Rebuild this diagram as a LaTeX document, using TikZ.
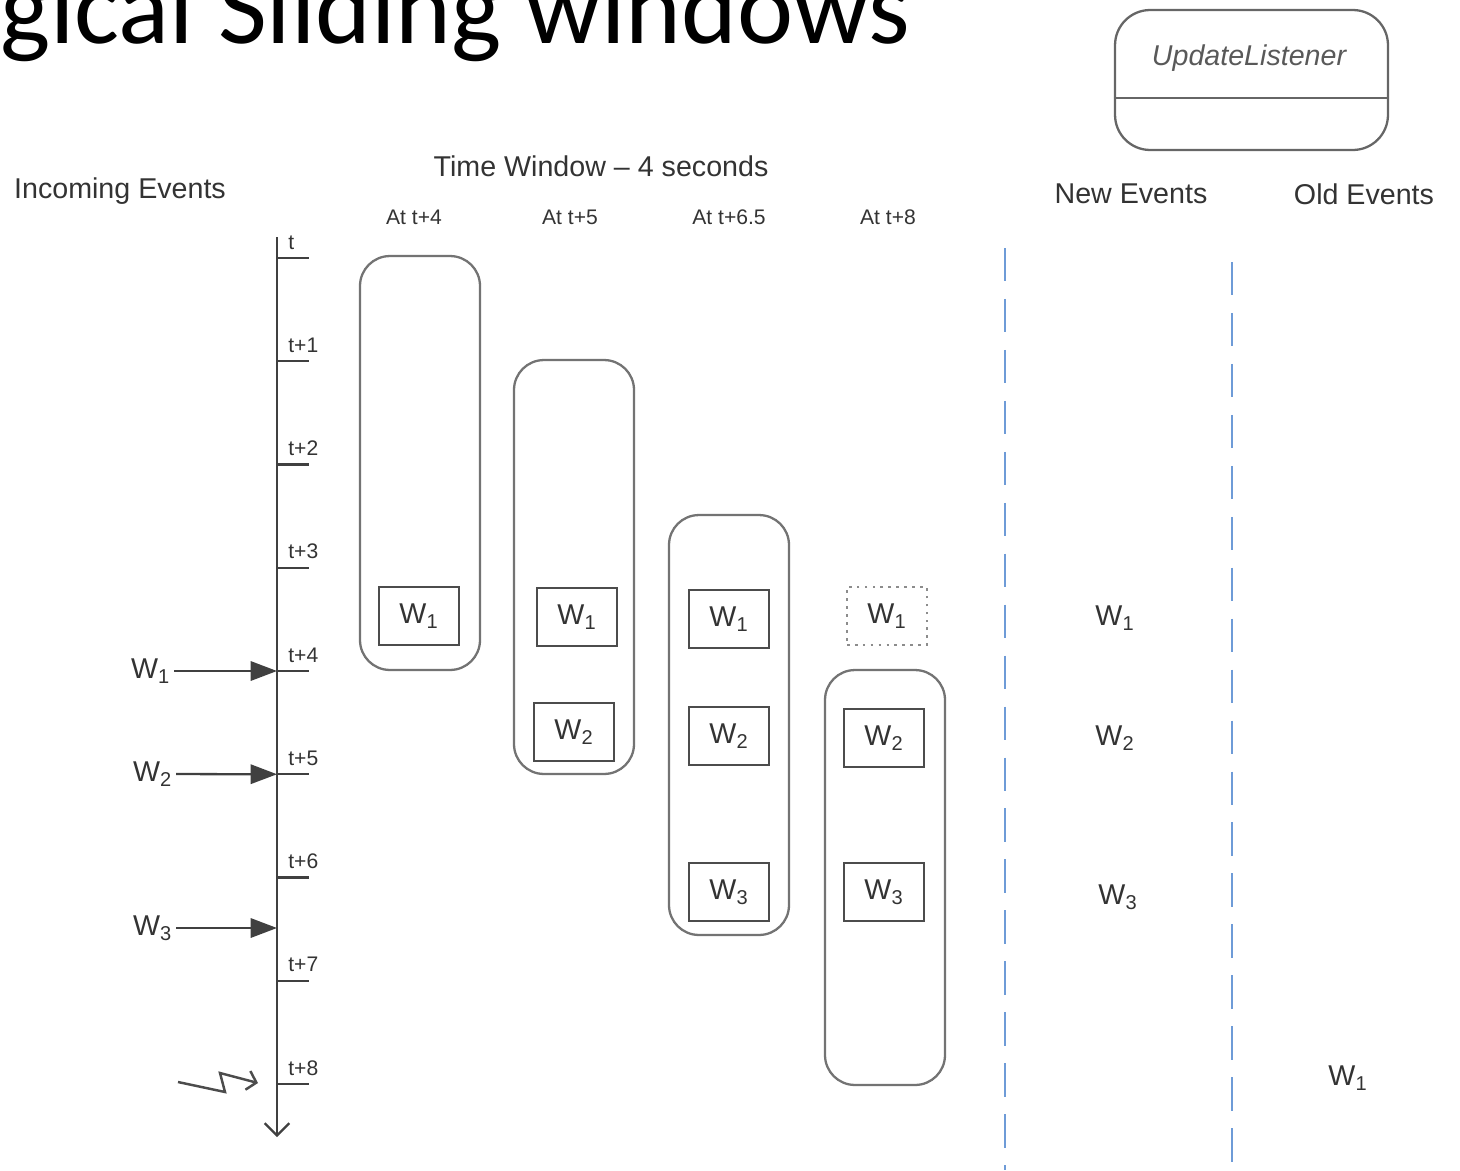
\documentclass[tikz,border=0pt]{standalone}
\usepackage{fontspec}
\setmainfont{Liberation Sans}
\newfontfamily\titlefont{Carlito}
\usetikzlibrary{arrows.meta,positioning}
\definecolor{divblue}{RGB}{110,155,215}
\newcommand\evfont{\fontsize{16.3}{19}\selectfont}
\newcommand\hdfont{\fontsize{12}{14}\selectfont}
\tikzset{
  axisline/.style={line width=1.3pt, draw=black!75},
  inarr/.style={-{Triangle[length=15pt,width=11pt]}, line width=1.3pt, draw=black!75},
  evlabel/.style={text=black!80, font=\evfont, inner sep=2pt},
  ticklabel/.style={text=black!80, font=\hdfont, inner sep=0pt, anchor=base west},
  winbox/.style={draw=black!55, line width=1.3pt, rounded corners=17pt, minimum width=2.4cm},
  evbox/.style={draw=black!70, line width=1.2pt, minimum width=1.6cm, minimum height=1.16cm,
    text=black!80, font=\evfont, inner sep=0pt},
  divline/.style={draw=divblue, line width=1.2pt, dash pattern=on 19pt off 10pt},
}

\begin{document}
\begin{tikzpicture}[x=0.02cm, y=-0.02cm]
  \useasboundingbox (0,0) rectangle (1460,1170);
  \clip (0,0) rectangle (1460,1170);

  \node[anchor=base west, inner sep=0pt, font=\titlefont\fontsize{60.5}{60}\selectfont] (title) at (0,43)
    {gical Sliding windows};

  % listener box
  \node[draw=black!60, line width=1.3pt, rounded corners=20pt, minimum width=5.46cm, minimum height=2.8cm]
    (listener) at (1251.5,80) {};
  \draw[draw=black!60, line width=1.3pt] (listener.west |- 0,98) -- (listener.east |- 0,98);
  \node[evlabel, font=\evfont\itshape, text=black!65] (lsname) at (1249,58) {UpdateListener};

  % headings
  \node[evlabel] (incoming) at (120,191) {Incoming Events};
  \node[evlabel] (twin) at (601,166) {Time Window -- 4 seconds};
  \node[evlabel] (newev) at (1131,194) {New Events};
  \node[evlabel] (oldev) at (1364,194) {Old Events};
  \node[evlabel, font=\hdfont] (h1) at (414,217) {At t+4};
  \node[evlabel, font=\hdfont] (h2) at (570,217) {At t+5};
  \node[evlabel, font=\hdfont] (h3) at (729,217) {At t+6.5};
  \node[evlabel, font=\hdfont] (h4) at (888,217) {At t+8};

  % time axis
  \coordinate (axtop) at (277,237);
  \coordinate (axbot) at (277,1137);
  \draw[axisline, -{Straight Barb[length=7pt,width=14pt]}] (axtop) -- (axbot);
  \foreach \k/\lab in {0/t,1/t+1,2/t+2,3/t+3,4/t+4,5/t+5,6/t+6,7/t+7,8/t+8} {
    \coordinate (t\k) at (277,258+103.25*\k);
    \draw[axisline] (t\k) -- ++(32,0);
    \node[ticklabel] (lab\k) at (288,249+103.25*\k) {\lab};
  }
  \coordinate (t65) at (277,928);

  % incoming events
  \node[evlabel, anchor=east] (in1) at (174,671) {W\textsubscript{1}};
  \node[evlabel, anchor=east] (in2) at (176,774) {W\textsubscript{2}};
  \node[evlabel, anchor=east] (in3) at (176,928) {W\textsubscript{3}};
  \draw[inarr] (in1) -- (t4);
  \draw[inarr] (in2) -- (t5);
  \draw[inarr] (in3) -- (t65);

  \coordinate (bolt) at (178,1082);
  \coordinate (bolthit) at (258,1083);
  \draw[line width=1.4pt, draw=black!70, -{Straight Barb[length=5pt,width=11pt]}]
    (bolt) -- (225,1092) -- (220,1073) -- (bolthit);

  % windows
  \node[winbox, minimum height=8.28cm] (win1) at (420,463) {};
  \node[winbox, minimum height=8.28cm] (win2) at (574,567) {};
  \node[winbox, minimum height=8.4cm] (win3) at (729,725) {};
  \node[winbox, minimum height=8.3cm] (win4) at (885,877.5) {};

  \node[evbox] (a1) at (419,616) {W\textsubscript{1}};
  \node[evbox] (b1) at (577,617) {W\textsubscript{1}};
  \node[evbox] (b2) at (574,732) {W\textsubscript{2}};
  \node[evbox] (c1) at (729,619) {W\textsubscript{1}};
  \node[evbox] (c2) at (729,736) {W\textsubscript{2}};
  \node[evbox] (c3) at (729,892) {W\textsubscript{3}};
  \node[evbox, draw=black!45, dash pattern=on 1.5pt off 3pt] (d1) at (887,616) {W\textsubscript{1}};
  \node[evbox] (d2) at (884,738) {W\textsubscript{2}};
  \node[evbox] (d3) at (884,892) {W\textsubscript{3}};

  % listener columns
  \draw[divline] (1005,248) -- (1005,1170);
  \draw[divline] (1232,262) -- (1232,1170);
  \node[evlabel] (n1) at (1115,618) {W\textsubscript{1}};
  \node[evlabel] (n2) at (1115,738) {W\textsubscript{2}};
  \node[evlabel] (n3) at (1118,897) {W\textsubscript{3}};
  \node[evlabel] (o1) at (1348,1078) {W\textsubscript{1}};
\end{tikzpicture}
\end{document}
